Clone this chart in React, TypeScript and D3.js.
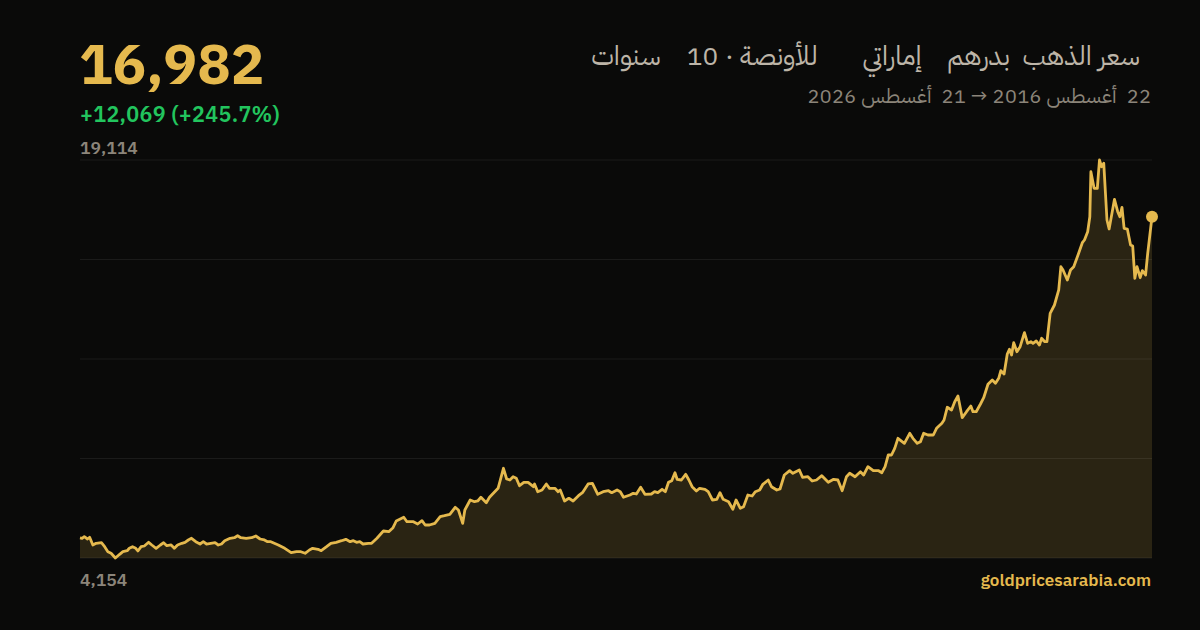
import React from 'react';
import * as d3 from 'd3';

// gold price in AED per ounce (decimal years)
const years = [
  2016.64, 2016.66, 2016.68, 2016.71, 2016.73, 2016.76, 2016.79, 2016.84, 2016.87, 2016.90,
  2016.93, 2016.97, 2017.01, 2017.04, 2017.08, 2017.10, 2017.13, 2017.16, 2017.18, 2017.21,
  2017.24, 2017.28, 2017.31, 2017.35, 2017.39, 2017.42, 2017.45, 2017.49, 2017.52, 2017.55,
  2017.59, 2017.62, 2017.65, 2017.68, 2017.72, 2017.76, 2017.79, 2017.82, 2017.86, 2017.90,
  2017.93, 2017.96, 2017.99, 2018.04, 2018.08, 2018.11, 2018.14, 2018.19, 2018.24, 2018.28,
  2018.32, 2018.36, 2018.39, 2018.42, 2018.49, 2018.55, 2018.61, 2018.66, 2018.70, 2018.74,
  2018.78, 2018.81, 2018.86, 2018.89, 2018.94, 2018.98, 2019.03, 2019.08, 2019.12, 2019.16,
  2019.19, 2019.22, 2019.25, 2019.28, 2019.33, 2019.36, 2019.41, 2019.47, 2019.52, 2019.56,
  2019.59, 2019.66, 2019.69, 2019.75, 2019.79, 2019.83, 2019.86, 2019.90, 2019.95, 2020.00,
  2020.04, 2020.09, 2020.14, 2020.17, 2020.21, 2020.23, 2020.28, 2020.32, 2020.35, 2020.38,
  2020.43, 2020.46, 2020.54, 2020.59, 2020.62, 2020.65, 2020.68, 2020.71, 2020.74, 2020.78,
  2020.82, 2020.87, 2020.88, 2020.91, 2020.95, 2020.99, 2021.02, 2021.07, 2021.10, 2021.12,
  2021.16, 2021.20, 2021.24, 2021.29, 2021.33, 2021.38, 2021.42, 2021.47, 2021.52, 2021.57,
  2021.60, 2021.65, 2021.68, 2021.71, 2021.77, 2021.80, 2021.83, 2021.87, 2021.91, 2021.97,
  2022.00, 2022.03, 2022.07, 2022.10, 2022.13, 2022.16, 2022.19, 2022.21, 2022.25, 2022.29,
  2022.32, 2022.35, 2022.39, 2022.42, 2022.47, 2022.50, 2022.54, 2022.58, 2022.61, 2022.64,
  2022.69, 2022.73, 2022.76, 2022.80, 2022.83, 2022.87, 2022.91, 2022.94, 2022.98, 2023.01,
  2023.06, 2023.09, 2023.14, 2023.17, 2023.21, 2023.26, 2023.29, 2023.35, 2023.38, 2023.43,
  2023.47, 2023.51, 2023.56, 2023.62, 2023.67, 2023.71, 2023.75, 2023.79, 2023.82, 2023.87,
  2023.92, 2023.95, 2023.99, 2024.04, 2024.09, 2024.12, 2024.15, 2024.18, 2024.21, 2024.24,
  2024.27, 2024.33, 2024.38, 2024.41, 2024.45, 2024.48, 2024.51, 2024.55, 2024.60, 2024.63,
  2024.68, 2024.70, 2024.73, 2024.77, 2024.80, 2024.83, 2024.87, 2024.91, 2024.95, 2024.97,
  2025.00, 2025.04, 2025.07, 2025.11, 2025.15, 2025.18, 2025.21, 2025.23, 2025.26, 2025.29,
  2025.31, 2025.33, 2025.35, 2025.38, 2025.41, 2025.45, 2025.48, 2025.51, 2025.53, 2025.56,
  2025.59, 2025.61, 2025.64, 2025.66, 2025.69, 2025.73, 2025.77, 2025.79, 2025.81, 2025.85,
  2025.88, 2025.91, 2025.95, 2025.99, 2026.01, 2026.04, 2026.06, 2026.07, 2026.10, 2026.13,
  2026.15, 2026.17, 2026.19, 2026.22, 2026.24, 2026.29, 2026.32, 2026.34, 2026.36, 2026.38,
  2026.41, 2026.44, 2026.46, 2026.48, 2026.50, 2026.53, 2026.55, 2026.58, 2026.60, 2026.64,
];

const prices = [
  4913, 4895, 4955, 4868, 4932, 4643, 4707, 4729, 4579, 4391,
  4331, 4154, 4293, 4391, 4428, 4519, 4579, 4519, 4417, 4579,
  4605, 4744, 4643, 4519, 4643, 4729, 4616, 4643, 4519, 4643,
  4707, 4744, 4831, 4895, 4767, 4680, 4767, 4680, 4707, 4729,
  4643, 4680, 4804, 4895, 4917, 4992, 4917, 4895, 4917, 4981,
  4868, 4831, 4767, 4767, 4643, 4519, 4353, 4391, 4391, 4331,
  4455, 4519, 4481, 4428, 4579, 4707, 4744, 4804, 4857, 4767,
  4804, 4744, 4767, 4680, 4707, 4707, 4895, 5169, 5143, 5293,
  5545, 5684, 5518, 5518, 5432, 5556, 5394, 5394, 5458, 5706,
  5744, 5797, 6060, 5958, 5458, 5958, 6334, 6270, 6297, 6436,
  6233, 6436, 6774, 7526, 7124, 7086, 7210, 7150, 6872, 6999,
  6999, 6834, 6936, 6646, 6710, 6936, 6774, 6774, 6646, 6710,
  6297, 6398, 6297, 6496, 6624, 6936, 6962, 6548, 6646, 6684,
  6609, 6710, 6646, 6436, 6522, 6586, 6560, 6812, 6548, 6560,
  6646, 6609, 6736, 6646, 7000, 7060, 7360, 7112, 7086, 7300,
  7086, 6834, 6672, 6774, 6736, 6646, 6334, 6360, 6609, 6360,
  6270, 5985, 6334, 6022, 6082, 6522, 6484, 6646, 6710, 6924,
  7086, 6834, 6710, 6748, 7274, 7435, 7338, 7462, 7187, 7210,
  7048, 7086, 7248, 6999, 7112, 7086, 6684, 7210, 7338, 7210,
  7398, 7274, 7586, 7435, 7435, 7360, 7586, 8026, 8026, 8277,
  8653, 8465, 8841, 8653, 8465, 8526, 8841, 8777, 8777, 9029,
  9217, 9341, 9819, 9717, 10029, 10243, 9428, 9653, 9867, 9653,
  9653, 9943, 10179, 10683, 10845, 10721, 10909, 11194, 11070, 11822,
  11999, 11784, 12247, 11908, 12096, 12623, 12224, 12284, 12224, 12311,
  12160, 12412, 12284, 12284, 13352, 13664, 14228, 15103, 14979, 14603,
  14979, 15103, 15543, 16006, 16107, 16419, 16983, 18674, 18050, 18050,
  19114, 18862, 18990, 16859, 16520, 17637, 17171, 16983, 17336, 16547,
  16520, 15919, 15881, 14667, 15103, 14690, 14953, 14791, 15607, 16982,
];

const title = 'سعر الذهب  بدرهم    إماراتي       للأونصة · 10    سنوات';
const subtitle = '22  أغسطس 2016 → 21  أغسطس 2026';
const lastLabel = '16,982';
const changeLabel = '+12,069 (+245.7%)';
const source = 'goldpricesarabia.com';

const W = 1200;
const H = 630;
const GOLD = '#e5b94e';
const FONT = "'IBM Plex Sans', Lato, 'DejaVu Sans', sans-serif";
const AR_FONT = "'IBM Plex Sans Arabic', 'DejaVu Sans', sans-serif";

export default function App() {
  const data = years.map((t, i) => ({ t, v: prices[i] }));
  const yMin = d3.min(prices) as number;
  const yMax = d3.max(prices) as number;

  const x = d3.scaleLinear().domain([years[0], years[years.length - 1]]).range([80, 1152]);
  const y = d3.scaleLinear().domain([yMin, yMax]).range([558, 160]);

  const line = d3.line<{ t: number; v: number }>()
    .x(d => x(d.t))
    .y(d => y(d.v));
  const area = d3.area<{ t: number; v: number }>()
    .x(d => x(d.t))
    .y0(y(yMin))
    .y1(d => y(d.v));

  const grid = d3.range(5).map(i => yMin + (i * (yMax - yMin)) / 4);
  const last = data[data.length - 1];
  const fmt = d3.format(',');

  return (
    <svg width={W} height={H} style={{ display: 'block', position: 'absolute', left: 0, top: 0 }}>
      <rect width={W} height={H} fill="#0a0a09" />

      <text x={79} y={84} fill={GOLD} fontFamily={FONT} fontWeight={700} fontSize={56}>{lastLabel}</text>
      <text x={80} y={122} fill="#22c55e" fontFamily={FONT} fontWeight={600} fontSize={21.5} letterSpacing={0.3}>{changeLabel}</text>

      <text x={1140} y={65} direction="rtl" textAnchor="start" fill="#bdb5a8" fontFamily={AR_FONT} fontSize={27}
        style={{ whiteSpace: 'pre' }}>{title}</text>
      <text x={1151} y={103} direction="rtl" textAnchor="start" fill="#8c857a" fontFamily={AR_FONT} fontSize={20.5}
        style={{ whiteSpace: 'pre' }}>{subtitle}</text>

      <path d={area(data) || ''} fill={GOLD} fillOpacity={0.15} />
      {grid.map(g => (
        <line key={g} x1={80} x2={1152} y1={y(g)} y2={y(g)} stroke="#ffffff" strokeOpacity={0.07} strokeWidth={1} />
      ))}
      <path d={line(data) || ''} fill="none" stroke={GOLD} strokeWidth={2.8} strokeLinejoin="round" />
      <circle cx={x(last.t)} cy={y(last.v)} r={6} fill={GOLD} />

      <text x={80} y={154} fill="#8c857a" fontFamily={FONT} fontWeight={600} fontSize={17.5}>{fmt(yMax)}</text>
      <text x={80} y={586} fill="#8c857a" fontFamily={FONT} fontWeight={600} fontSize={17.5}>{fmt(yMin)}</text>
      <text x={1151} y={586} textAnchor="end" fill={GOLD} fontFamily={FONT} fontWeight={600} fontSize={17}>{source}</text>
    </svg>
  );
}
